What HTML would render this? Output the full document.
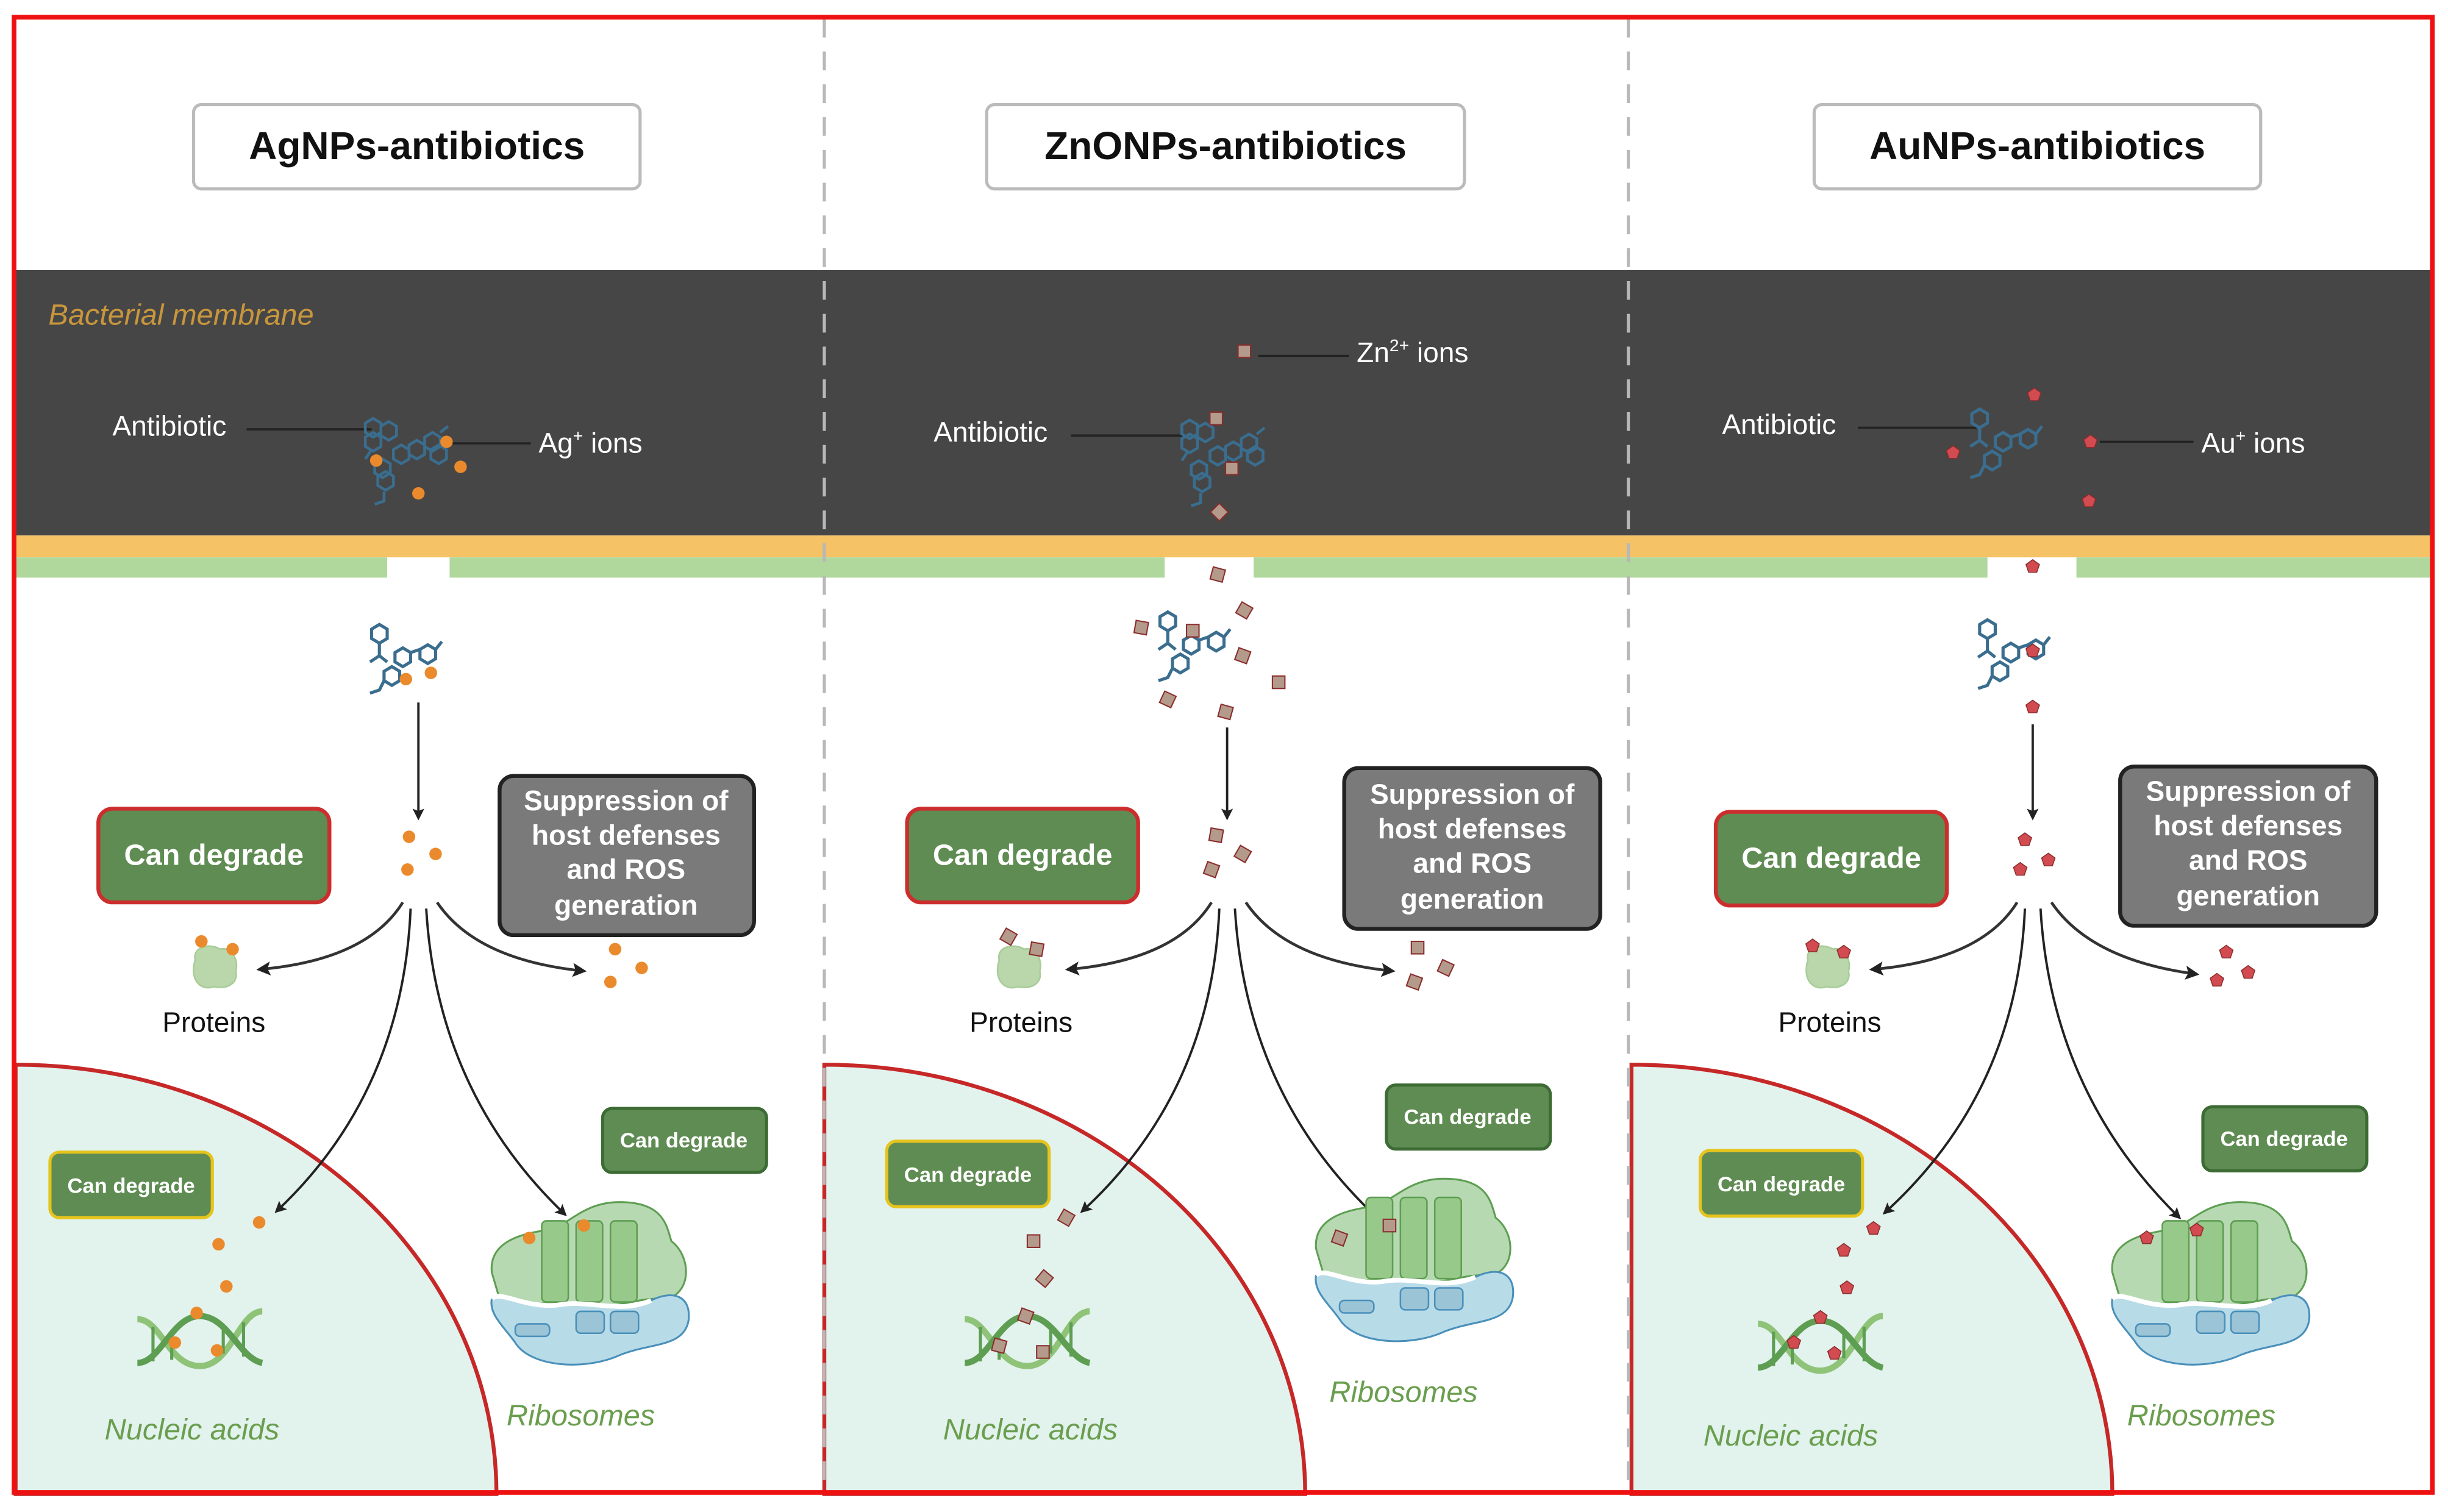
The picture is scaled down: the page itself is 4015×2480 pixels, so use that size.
<!DOCTYPE html>
<html><head><meta charset="utf-8"><style>
html,body{margin:0;padding:0;background:#fff;}
svg{display:block;}
text{font-family:"Liberation Sans",sans-serif;}
</style></head><body>
<svg width="4015" height="2480" viewBox="0 0 1568 968.5" xmlns="http://www.w3.org/2000/svg">
<defs>
<marker id="ah" viewBox="0 0 10 10" refX="8" refY="5" markerWidth="5" markerHeight="5" orient="auto-start-reverse">
<path d="M0,0 L10,5 L0,10 L2,5 Z" fill="#222"/></marker>
<linearGradient id="gl" gradientUnits="objectBoundingBox" x1="0" y1="0" x2="0" y2="1"><stop offset="0" stop-color="#fff"/><stop offset="0.5" stop-color="#444"/><stop offset="1" stop-color="#222"/></linearGradient>
<linearGradient id="gh" x1="0" y1="0" x2="1" y2="1"><stop offset="0" stop-color="#ddd"/><stop offset="0.6" stop-color="#333"/><stop offset="1" stop-color="#222"/></linearGradient>
<g id="mol" fill="none" stroke="#3a6d8e" stroke-width="2">
<path d="M-20,-15 l5,-3 5,3 0,6 -5,3 -5,-3z M-15,-6 l0,8 M-15,2 l-6,4 M-15,2 l5,4 M-5,0 l5,-3 5,3 0,6 -5,3 -5,-3z M5,0 l6,-2 M11,-2 l5,-3 5,3 0,6 -5,3 -5,-3z M21,-2 l4,-5 M-12,12 l5,-3 5,3 0,6 -5,3 -5,-3z M-12,18 l-3,6 -6,2"/>
</g>
<g id="mol2" fill="none" stroke="#3a6d8e" stroke-width="1.8">
<path d="M-28,-14 l5,-3 5,3 0,6 -5,3 -5,-3z M-28,-5 l5,-3 5,3 0,6 -5,3 -5,-3z M-18,-12 l5,-3 5,3 0,6 -5,3 -5,-3z M-24,3 l-4,6 M-10,3 l5,-3 5,3 0,6 -5,3 -5,-3z M0,0 l5,-3 5,3 0,6 -5,3 -5,-3z M10,-5 l5,-3 5,3 0,6 -5,3 -5,-3z M14,3 l5,-3 5,3 0,6 -5,3 -5,-3z M20,-8 l5,-4 M-22,12 l5,-3 5,3 0,6 -5,3 -5,-3z M-20,20 l5,-3 5,3 0,6 -5,3 -5,-3z M-16,30 l0,6 -6,2"/>
</g>
<g id="ribo">
<path d="M0,45 C-2,25 20,20 35,18 C50,15 58,0 82,0 C110,0 112,15 115,25 C128,35 128,58 112,62 C92,60 72,72 50,66 C30,62 18,70 5,62 Z" fill="#b7d9b2" stroke="#5e9e52" stroke-width="1.2"/>
<rect x="32" y="12" width="17" height="52" rx="3" fill="#97c98b" stroke="#5e9e52" stroke-width="1"/>
<rect x="54" y="12" width="17" height="52" rx="3" fill="#97c98b" stroke="#5e9e52" stroke-width="1"/>
<rect x="76" y="12" width="17" height="52" rx="3" fill="#97c98b" stroke="#5e9e52" stroke-width="1"/>
<path d="M0,62 C5,56 20,68 42,66 C62,62 82,72 102,63 C116,56 128,60 126,76 C123,93 102,90 82,98 C60,108 25,106 15,90 C8,80 -2,72 0,62 Z" fill="#b8dbe8" stroke="#4a90ba" stroke-width="1.2"/>
<path d="M0,62 C5,56 20,68 42,66 C62,62 82,72 102,63" fill="none" stroke="#fff" stroke-width="3"/>
<rect x="15" y="78" width="22" height="8" rx="3" fill="#9bc4d6" stroke="#4a90ba" stroke-width="1"/>
<rect x="54" y="70" width="18" height="14" rx="3" fill="#9bc4d6" stroke="#4a90ba" stroke-width="1"/>
<rect x="76" y="70" width="18" height="14" rx="3" fill="#9bc4d6" stroke="#4a90ba" stroke-width="1"/>
</g>
<g id="dna" fill="none" stroke-width="4">
<path d="M0,10 C15,10 20,40 40,40 C60,40 65,5 80,5" stroke="#8fc378"/>
<path d="M0,38 C15,38 22,8 40,8 C58,8 65,35 80,38" stroke="#5e9e52"/>
<path d="M10,15 v22 M22,22 v14 M55,14 v18 M68,12 v22" stroke="#5e9e52" stroke-width="2"/>
</g>
<g id="prot"><path d="M-12,-5 C-14,-14 -2,-16 4,-12 C12,-14 16,-4 14,2 C16,10 8,14 0,12 C-8,15 -16,8 -12,-5Z" fill="#b9d7ab" stroke="#a8cc98" stroke-width="1"/></g>
<circle id="ag" r="4" fill="#ea8a2c"/>
<rect id="zn" x="-4" y="-4" width="8" height="8" fill="#b49a8a" stroke="#8a2c2c" stroke-width="0.8"/>
<path id="au" d="M0,-4.5 L4.3,-1.4 2.6,3.6 -2.6,3.6 -4.3,-1.4Z" fill="#d14b50" stroke="#8a2c2c" stroke-width="0.6"/>
</defs>

<rect x="0" y="0" width="1568" height="968.5" fill="#fff"/>
<!-- membrane -->
<rect x="10" y="173" width="1548" height="170" fill="#464646"/>
<rect x="10" y="343" width="1548" height="14" fill="#f5c265"/>
<rect x="10" y="357" width="238" height="13" fill="#b0d89d"/>
<rect x="288" y="357" width="458" height="13" fill="#b0d89d"/>
<rect x="803" y="357" width="470" height="13" fill="#b0d89d"/>
<rect x="1330" y="357" width="228" height="13" fill="#b0d89d"/>
<text x="31" y="208" font-size="19" font-style="italic" fill="#c8963c">Bacterial membrane</text>

<!-- nuclei -->
<path d="M10,682 A308,275 0 0 1 318,957 L10,957 Z" fill="#e2f2ed" stroke="#c62828" stroke-width="2.5"/>
<path d="M528,682 A308,275 0 0 1 836,957 L528,957 Z" fill="#e2f2ed" stroke="#c62828" stroke-width="2.5"/>
<path d="M1045,682 A308,275 0 0 1 1353,957 L1045,957 Z" fill="#e2f2ed" stroke="#c62828" stroke-width="2.5"/>

<!-- dividers -->
<line x1="528" y1="12" x2="528" y2="956" stroke="#b8b8b8" stroke-width="2" stroke-dasharray="12,9"/>
<line x1="1043" y1="12" x2="1043" y2="956" stroke="#b8b8b8" stroke-width="2" stroke-dasharray="12,9"/>

<!-- titles -->
<rect x="124" y="67" width="286" height="54" rx="5" fill="#fff" stroke="#bbb" stroke-width="2"/>
<text x="267" y="102" font-size="25" font-weight="bold" text-anchor="middle" fill="#111">AgNPs-antibiotics</text>
<rect x="632" y="67" width="306" height="54" rx="5" fill="#fff" stroke="#bbb" stroke-width="2"/>
<text x="785" y="102" font-size="25" font-weight="bold" text-anchor="middle" fill="#111">ZnONPs-antibiotics</text>
<rect x="1162" y="67" width="286" height="54" rx="5" fill="#fff" stroke="#bbb" stroke-width="2"/>
<text x="1305" y="102" font-size="25" font-weight="bold" text-anchor="middle" fill="#111">AuNPs-antibiotics</text>

<!-- ===== Ag panel ===== -->
<text x="72" y="279" font-size="18" fill="#fff">Antibiotic</text>
<line x1="158" y1="275" x2="238" y2="275" stroke="#222" stroke-width="1.5"/>
<use href="#mol2" x="262" y="285"/>
<line x1="290" y1="284" x2="340" y2="284" stroke="#222" stroke-width="1.5"/>
<text x="345" y="290" font-size="18" fill="#fff">Ag<tspan font-size="11" dy="-7">+</tspan><tspan dy="7"> ions</tspan></text>
<use href="#ag" x="241" y="295"/><use href="#ag" x="295" y="299"/><use href="#ag" x="268" y="316"/><use href="#ag" x="286" y="283"/>
<use href="#mol" x="258" y="418"/>
<use href="#ag" x="260" y="435"/><use href="#ag" x="276" y="431"/>
<line x1="268" y1="450" x2="268" y2="524" stroke="#222" stroke-width="1.5" marker-end="url(#ah)"/>
<use href="#ag" x="262" y="536"/><use href="#ag" x="279" y="547"/><use href="#ag" x="261" y="557"/>
<rect x="63" y="518" width="148" height="60" rx="9" fill="#5f8c52" stroke="#cc2e2e" stroke-width="2.5"/>
<text x="137" y="554" font-size="19" font-weight="bold" text-anchor="middle" fill="#fff">Can degrade</text>
<rect x="320" y="497" width="163" height="102" rx="9" fill="#7a7a7a" stroke="#222" stroke-width="2.5"/>
<text font-size="18" font-weight="bold" text-anchor="middle" fill="#fff"><tspan x="401" y="519">Suppression of</tspan><tspan x="401" y="541">host defenses</tspan><tspan x="401" y="563">and ROS</tspan><tspan x="401" y="586">generation</tspan></text>
<use href="#prot" x="137" y="620"/><use href="#ag" x="129" y="603"/><use href="#ag" x="149" y="608"/>
<text x="137" y="661" font-size="18" text-anchor="middle" fill="#111">Proteins</text>
<use href="#ag" x="394" y="608"/><use href="#ag" x="411" y="620"/><use href="#ag" x="391" y="629"/>
<path d="M258,578 Q235,615 166,621" fill="none" stroke="#333" stroke-width="1.8" marker-end="url(#ah)"/>
<path d="M280,578 Q305,615 374,622" fill="none" stroke="#333" stroke-width="1.8" marker-end="url(#ah)"/>
<path d="M263,582 Q258,700 177,776" fill="none" stroke="#222" stroke-width="1.5" marker-end="url(#ah)"/>
<path d="M273,582 Q280,700 362,778" fill="none" stroke="#222" stroke-width="1.5" marker-end="url(#ah)"/>
<rect x="32" y="738" width="104" height="42" rx="6" fill="#5f8c52" stroke="#e6c41c" stroke-width="2"/>
<text x="84" y="764" font-size="13.5" font-weight="bold" text-anchor="middle" fill="#fff">Can degrade</text>
<rect x="386" y="710" width="105" height="41" rx="6" fill="#5f8c52" stroke="#3c6b34" stroke-width="2"/>
<text x="438" y="735" font-size="13.5" font-weight="bold" text-anchor="middle" fill="#fff">Can degrade</text>
<use href="#dna" x="88" y="835"/>
<use href="#ag" x="166" y="783"/><use href="#ag" x="140" y="797"/><use href="#ag" x="145" y="824"/><use href="#ag" x="126" y="841"/><use href="#ag" x="112" y="860"/><use href="#ag" x="139" y="865"/>
<text x="123" y="922" font-size="19" font-style="italic" text-anchor="middle" fill="#6a9e4e">Nucleic acids</text>
<use href="#ribo" x="315" y="770"/>
<use href="#ag" x="339" y="793"/><use href="#ag" x="374" y="785"/>
<text x="372" y="913" font-size="19" font-style="italic" text-anchor="middle" fill="#6a9e4e">Ribosomes</text>

<!-- ===== Zn panel ===== -->
<use href="#zn" x="797" y="225"/>
<line x1="806" y1="228" x2="864" y2="228" stroke="#222" stroke-width="1.5"/>
<text x="869" y="232" font-size="18" fill="#fff">Zn<tspan font-size="11" dy="-7">2+</tspan><tspan dy="7"> ions</tspan></text>
<text x="598" y="283" font-size="18" fill="#fff">Antibiotic</text>
<line x1="686" y1="279" x2="760" y2="279" stroke="#222" stroke-width="1.5"/>
<use href="#mol2" x="785" y="286"/>
<use href="#zn" x="779" y="268"/><use href="#zn" x="789" y="300"/><use href="#zn" transform="translate(781,328) rotate(45)"/>
<use href="#mol" x="763" y="410"/>
<use href="#zn" transform="translate(780,368) rotate(15)"/><use href="#zn" transform="translate(797,391) rotate(30)"/><use href="#zn" transform="translate(731,402) rotate(10)"/><use href="#zn" x="764" y="404"/><use href="#zn" transform="translate(796,420) rotate(20)"/><use href="#zn" x="819" y="437"/><use href="#zn" transform="translate(748,448) rotate(25)"/><use href="#zn" transform="translate(785,456) rotate(15)"/>
<line x1="786" y1="466" x2="786" y2="524" stroke="#222" stroke-width="1.5" marker-end="url(#ah)"/>
<use href="#zn" transform="translate(779,535) rotate(10)"/><use href="#zn" transform="translate(796,547) rotate(30)"/><use href="#zn" transform="translate(776,557) rotate(20)"/>
<rect x="581" y="518" width="148" height="60" rx="9" fill="#5f8c52" stroke="#cc2e2e" stroke-width="2.5"/>
<text x="655" y="554" font-size="19" font-weight="bold" text-anchor="middle" fill="#fff">Can degrade</text>
<rect x="861" y="492" width="164" height="103" rx="9" fill="#7a7a7a" stroke="#222" stroke-width="2.5"/>
<text font-size="18" font-weight="bold" text-anchor="middle" fill="#fff"><tspan x="943" y="515">Suppression of</tspan><tspan x="943" y="537">host defenses</tspan><tspan x="943" y="559">and ROS</tspan><tspan x="943" y="582">generation</tspan></text>
<use href="#prot" x="652" y="620"/><use href="#zn" transform="translate(646,600) rotate(30)"/><use href="#zn" transform="translate(664,608) rotate(10)"/>
<text x="654" y="661" font-size="18" text-anchor="middle" fill="#111">Proteins</text>
<use href="#zn" x="908" y="607"/><use href="#zn" transform="translate(926,620) rotate(25)"/><use href="#zn" transform="translate(906,629) rotate(20)"/>
<path d="M776,578 Q753,615 684,621" fill="none" stroke="#333" stroke-width="1.8" marker-end="url(#ah)"/>
<path d="M798,578 Q823,615 892,622" fill="none" stroke="#333" stroke-width="1.8" marker-end="url(#ah)"/>
<path d="M781,582 Q776,700 693,776" fill="none" stroke="#222" stroke-width="1.5" marker-end="url(#ah)"/>
<path d="M791,582 Q798,700 880,778" fill="none" stroke="#222" stroke-width="1.5" marker-end="url(#ah)"/>
<rect x="568" y="731" width="104" height="42" rx="6" fill="#5f8c52" stroke="#e6c41c" stroke-width="2"/>
<text x="620" y="757" font-size="13.5" font-weight="bold" text-anchor="middle" fill="#fff">Can degrade</text>
<rect x="888" y="695" width="105" height="41" rx="6" fill="#5f8c52" stroke="#3c6b34" stroke-width="2"/>
<text x="940" y="720" font-size="13.5" font-weight="bold" text-anchor="middle" fill="#fff">Can degrade</text>
<use href="#dna" x="618" y="835"/>
<use href="#zn" transform="translate(683,780) rotate(30)"/><use href="#zn" x="662" y="795"/><use href="#zn" transform="translate(669,819) rotate(40)"/><use href="#zn" transform="translate(657,843) rotate(20)"/><use href="#zn" transform="translate(640,862) rotate(15)"/><use href="#zn" x="668" y="866"/>
<text x="660" y="922" font-size="19" font-style="italic" text-anchor="middle" fill="#6a9e4e">Nucleic acids</text>
<use href="#ribo" x="843" y="755"/>
<use href="#zn" transform="translate(858,793) rotate(20)"/><use href="#zn" x="890" y="785"/>
<text x="899" y="898" font-size="19" font-style="italic" text-anchor="middle" fill="#6a9e4e">Ribosomes</text>

<!-- ===== Au panel ===== -->
<text x="1103" y="278" font-size="18" fill="#fff">Antibiotic</text>
<line x1="1190" y1="274" x2="1266" y2="274" stroke="#222" stroke-width="1.5"/>
<use href="#mol" x="1283" y="280"/>
<use href="#au" x="1303" y="253"/><use href="#au" x="1251" y="290"/><use href="#au" x="1339" y="283"/><use href="#au" x="1338" y="321"/>
<line x1="1345" y1="283" x2="1405" y2="283" stroke="#222" stroke-width="1.5"/>
<text x="1410" y="290" font-size="18" fill="#fff">Au<tspan font-size="11" dy="-7">+</tspan><tspan dy="7"> ions</tspan></text>
<use href="#au" x="1302" y="363"/>
<use href="#mol" x="1288" y="415"/><use href="#au" x="1302" y="417"/>
<use href="#au" x="1302" y="453"/>
<line x1="1302" y1="464" x2="1302" y2="524" stroke="#222" stroke-width="1.5" marker-end="url(#ah)"/>
<use href="#au" x="1297" y="538"/><use href="#au" x="1312" y="551"/><use href="#au" x="1294" y="557"/>
<rect x="1099" y="520" width="148" height="60" rx="9" fill="#5f8c52" stroke="#cc2e2e" stroke-width="2.5"/>
<text x="1173" y="556" font-size="19" font-weight="bold" text-anchor="middle" fill="#fff">Can degrade</text>
<rect x="1358" y="491" width="164" height="102" rx="9" fill="#7a7a7a" stroke="#222" stroke-width="2.5"/>
<text font-size="18" font-weight="bold" text-anchor="middle" fill="#fff"><tspan x="1440" y="513">Suppression of</tspan><tspan x="1440" y="535">host defenses</tspan><tspan x="1440" y="557">and ROS</tspan><tspan x="1440" y="580">generation</tspan></text>
<use href="#prot" x="1170" y="620"/><use href="#au" x="1161" y="606"/><use href="#au" x="1181" y="610"/>
<text x="1172" y="661" font-size="18" text-anchor="middle" fill="#111">Proteins</text>
<use href="#au" x="1426" y="610"/><use href="#au" x="1440" y="623"/><use href="#au" x="1420" y="628"/>
<path d="M1292,578 Q1269,615 1199,621" fill="none" stroke="#333" stroke-width="1.8" marker-end="url(#ah)"/>
<path d="M1314,578 Q1339,615 1407,624" fill="none" stroke="#333" stroke-width="1.8" marker-end="url(#ah)"/>
<path d="M1297,582 Q1292,700 1207,777" fill="none" stroke="#222" stroke-width="1.5" marker-end="url(#ah)"/>
<path d="M1307,582 Q1314,700 1396,780" fill="none" stroke="#222" stroke-width="1.5" marker-end="url(#ah)"/>
<rect x="1089" y="737" width="104" height="42" rx="6" fill="#5f8c52" stroke="#e6c41c" stroke-width="2"/>
<text x="1141" y="763" font-size="13.5" font-weight="bold" text-anchor="middle" fill="#fff">Can degrade</text>
<rect x="1411" y="709" width="105" height="41" rx="6" fill="#5f8c52" stroke="#3c6b34" stroke-width="2"/>
<text x="1463" y="734" font-size="13.5" font-weight="bold" text-anchor="middle" fill="#fff">Can degrade</text>
<use href="#dna" x="1126" y="838"/>
<use href="#au" x="1200" y="787"/><use href="#au" x="1181" y="801"/><use href="#au" x="1183" y="825"/><use href="#au" x="1166" y="844"/><use href="#au" x="1149" y="860"/><use href="#au" x="1175" y="867"/>
<text x="1147" y="926" font-size="19" font-style="italic" text-anchor="middle" fill="#6a9e4e">Nucleic acids</text>
<use href="#ribo" x="1353" y="770"/>
<use href="#au" x="1375" y="793"/><use href="#au" x="1407" y="788"/>
<text x="1410" y="913" font-size="19" font-style="italic" text-anchor="middle" fill="#6a9e4e">Ribosomes</text>

<!-- red border -->
<rect x="9" y="11" width="1549" height="945" fill="none" stroke="#ee1111" stroke-width="3"/>
</svg>
</body></html>
